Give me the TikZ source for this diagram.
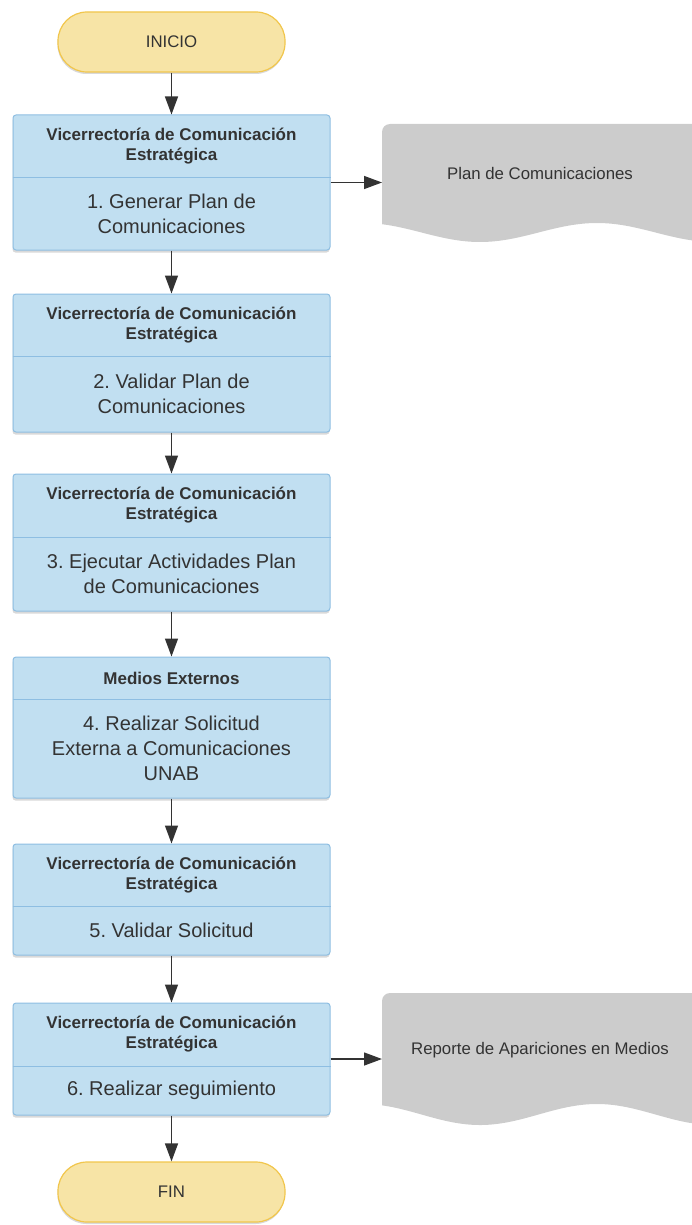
\documentclass[tikz,border=0pt]{standalone}
\usepackage{fontspec}
\setmainfont{Liberation Sans}
\usepackage{tikz}
\usetikzlibrary{positioning, arrows.meta, shadows}
\frenchspacing

\definecolor{boxblue}{RGB}{193,223,241}
\definecolor{boxline}{RGB}{142,190,226}
\definecolor{termfill}{RGB}{247,228,166}
\definecolor{termline}{RGB}{241,198,76}
\definecolor{docgray}{RGB}{204,204,204}
\definecolor{textgray}{RGB}{51,51,51}

\begin{document}
\begin{tikzpicture}[
            x=1pt, y=-1pt,
            >={Triangle[length=18pt, width=13pt]},
            font=\fontsize{16.8}{20}\selectfont,
            text=textgray,
            terminal/.style={draw=termline, line width=1.2pt, fill=termfill, rounded corners=29pt, minimum width=227pt, minimum height=60pt, inner sep=0pt, drop shadow={opacity=0.3, shadow xshift=-0.5pt, shadow yshift=-2pt}},
            process/.style={draw=boxline, line width=1pt, fill=boxblue, rounded corners=3pt, minimum width=317pt, inner sep=0pt, drop shadow={opacity=0.3, shadow xshift=-0.5pt, shadow yshift=-2.5pt}},
            header/.style={font=\bfseries\fontsize{17}{20}\selectfont, align=center},
            body/.style={font=\fontsize{20}{25}\selectfont, align=center},
            flow/.style={->, draw=textgray, line width=1.4pt},
        ]

        \useasboundingbox (0,0) rectangle (692,1225);

        % Draw the start and end nodes
        \node[terminal] (start) at (171.5,42) {INICIO};
        \node[terminal] (end) at (171.5,1192) {FIN};

        % Draw the process boxes
        \foreach \name / \ytop / \ysplit / \ybot / \head / \task in {
            1/115/178/250/{Vicerrectoría de Comunicación\\Estratégica}/{1. Generar Plan de\\Comunicaciones},
            2/294/356/432/{Vicerrectoría de Comunicación\\Estratégica}/{2. Validar Plan de\\Comunicaciones},
            3/474/537/611/{Vicerrectoría de Comunicación\\Estratégica}/{3. Ejecutar Actividades Plan\\de Comunicaciones},
            4/657/699/798/{Medios Externos}/{4. Realizar Solicitud\\Externa a Comunicaciones\\UNAB},
            5/844/906/955/{Vicerrectoría de Comunicación\\Estratégica}/{5. Validar Solicitud},
            6/1003/1066/1115/{Vicerrectoría de Comunicación\\Estratégica}/{6. Realizar seguimiento}}
        {
            \pgfmathsetmacro{\h}{\ybot-\ytop}
            \node[process, minimum height=\h pt] (s\name) at (171.5,{(\ytop+\ybot)/2}) {};
            \draw[boxline, line width=1pt] (s\name.west |- 0,\ysplit) -- (s\name.east |- 0,\ysplit);
            \node[header] (h\name) at (171.5,{(\ytop+\ysplit)/2}) {\head};
            \node[body] (b\name) at (171.5,{(\ysplit+\ybot)/2}) {\task};
        }

        % Draw the document shapes
        \foreach \name / \ytop / \ywave / \amp / \ytext / \doctext in {
            1/124/223/9.5/173/{Plan de Comunicaciones},
            2/993/1104/10.5/1050/{Reporte de Apariciones en Medios}}
        {
            \fill[docgray] (692,\ytop) -- (390,\ytop) arc[start angle=270, end angle=180, radius=8]
                -- (382,\ywave)
                -- plot[domain=382:692, samples=60, smooth] (\x,{\ywave+\amp+\amp*cos((\x-480)/117*180)})
                -- cycle;
            \coordinate (doc\name) at (382,\ytop);
            \node (d\name) at (540,\ytext) {\doctext};
        }

        % Connect the steps
        \draw[flow] (start.south) -- (s1.north);
        \foreach \source / \dest in {1/2, 2/3, 3/4, 4/5, 5/6}
        \draw[flow] (s\source.south) -- (s\dest.north);
        \draw[flow] (s6.south) -- (end.north);

        % Outputs of steps 1 and 6
        \draw[flow] (s1.east) -- (s1.east -| doc1);
        \draw[flow] (s6.east) -- (s6.east -| doc2);
    \end{tikzpicture}
\end{document}
